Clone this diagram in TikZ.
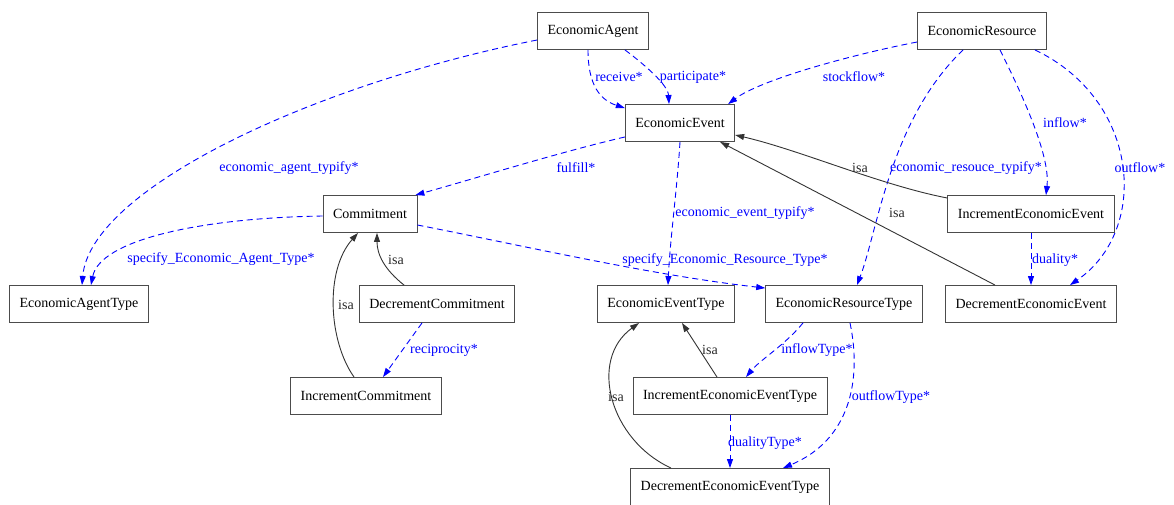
\documentclass[tikz,border=0pt]{standalone}
\usepackage{fontspec}
\setmainfont{Liberation Serif}
\usetikzlibrary{arrows.meta}

\begin{document}
\begin{tikzpicture}[x=1pt,y=-1pt,
  box/.style={draw=black!70,line width=0.9pt,minimum height=37pt,inner xsep=10pt,
    font=\fontsize{14pt}{16pt}\selectfont},
  rel/.style={draw=blue,line width=0.9pt,dash pattern=on 6pt off 4pt,
    -{Triangle[length=9pt,width=6pt]}},
  isa/.style={draw=black!80,line width=0.9pt,-{Triangle[length=9pt,width=6pt]}},
  lbl/.style={text=blue,inner sep=0pt,font=\fontsize{14pt}{16pt}\selectfont},
  isalbl/.style={lbl,text=black!85}]
\useasboundingbox (0,0) rectangle (1174,505);
% Classes, row by row
\node[box] (agent) at (593,31) {EconomicAgent};
\node[box] (resource) at (982,31) {EconomicResource};
\node[box] (event) at (680,123) {EconomicEvent};
\node[box] (commit) at (370,214) {Commitment};
\node[box] (incEvent) at (1031,214) {IncrementEconomicEvent};
\node[box] (agentType) at (79,304) {EconomicAgentType};
\node[box] (decCommit) at (437,304) {DecrementCommitment};
\node[box] (eventType) at (666,304) {EconomicEventType};
\node[box] (resType) at (844,304) {EconomicResourceType};
\node[box] (decEvent) at (1031,304) {DecrementEconomicEvent};
\node[box] (incCommit) at (366,396) {IncrementCommitment};
\node[box] (incEventType) at (730,396) {IncrementEconomicEventType};
\node[box] (decEventType) at (730,487) {DecrementEconomicEventType};
% Agent and resource relations
\draw[rel] ([yshift=-9pt]agent.west) .. controls (310,85) and (90,190) .. ([xshift=3pt]agentType.north);
\node[lbl] (lAgentTypify) at (289,168) {economic\_agent\_typify*};
\draw[rel] ([yshift=-2pt]commit.west) .. controls (200,218) and (100,240) .. ([xshift=12pt]agentType.north);
\node[lbl] (lSpecAgent) at (221,259) {specify\_Economic\_Agent\_Type*};
\draw[rel] ([xshift=-5pt]agent.south) .. controls (588,85) and (600,100) .. ([yshift=-4pt]event.north west);
\node[lbl] (lReceive) at (619,77) {receive*};
\draw[rel] ([xshift=32pt]agent.south) .. controls (645,65) and (668,85) .. ([xshift=-11pt]event.north);
\node[lbl] (lParticipate) at (693,77) {participate*};
\draw[rel] ([yshift=-11pt]resource.west) .. controls (850,55) and (760,80) .. ([xshift=-7pt]event.north east);
\node[lbl] (lStockflow) at (854,77) {stockflow*};
\draw[rel] ([yshift=-14pt]event.west) .. controls (560,152) and (470,180) .. ([xshift=-2pt]commit.north east);
\node[lbl] (lFulfill) at (576,168) {fulfill*};
\draw[rel] (event.south) .. controls (677,190) and (670,240) .. ([xshift=2pt]eventType.north);
\node[lbl] (lEventTypify) at (745,213) {economic\_event\_typify*};
\draw[rel] ([yshift=-11pt]commit.east) .. controls (520,245) and (650,275) .. ([yshift=-3pt]resType.north west);
\node[lbl] (lSpecResource) at (725,260) {specify\_Economic\_Resource\_Type*};
\draw[rel] ([xshift=-19pt]resource.south) .. controls (890,120) and (878,230) .. ([xshift=13pt]resType.north);
\node[lbl] (lResTypify) at (966,168) {economic\_resouce\_typify*};
\draw[rel] ([xshift=18pt]resource.south) .. controls (1030,110) and (1050,160) .. ([xshift=15pt]incEvent.north);
\node[lbl] (lInflow) at (1065,123) {inflow*};
\draw[rel] ([xshift=53pt]resource.south) .. controls (1140,100) and (1150,230) .. ([xshift=39pt]decEvent.north);
\node[lbl] (lOutflow) at (1140,168) {outflow*};
% Event subclasses
\draw[isa] ([yshift=-3pt]incEvent.north west) .. controls (880,185) and (800,150) .. ([yshift=-12pt]event.east);
\node[isalbl] (lIsaInc) at (860,168) {isa};
\draw[isa] ([xshift=-36pt]decEvent.north) -- ([xshift=-15pt]event.south east);
\node[isalbl] (lIsaDec) at (897,213) {isa};
\draw[rel] (incEvent.south) -- (incEvent.south |- decEvent.north);
\node[lbl,anchor=west] (lDuality) at (1032,260) {duality*};
% Commitment subclasses
\draw[isa] ([xshift=-33pt]decCommit.north) .. controls (385,270) and (377,255) .. ([xshift=7pt]commit.south);
\node[isalbl] (lIsaDecC) at (396,260) {isa};
\draw[isa] ([xshift=-12pt]incCommit.north) .. controls (328,340) and (325,270) .. ([xshift=-12pt]commit.south);
\node[isalbl] (lIsaIncC) at (346,305) {isa};
\draw[rel] ([xshift=-15pt]decCommit.south) -- ([xshift=17pt]incCommit.north);
\node[lbl] (lReciprocity) at (444,350) {reciprocity*};
% Event type subclasses
\draw[rel] ([xshift=-41pt]resType.south) .. controls (785,345) and (760,360) .. ([xshift=16pt]incEventType.north);
\node[lbl] (lInflowType) at (817,350) {inflowType*};
\draw[rel] ([xshift=6pt]resType.south) .. controls (862,380) and (850,440) .. ([xshift=53pt]decEventType.north);
\node[lbl] (lOutflowType) at (891,397) {outflowType*};
\draw[isa] ([xshift=-13pt]incEventType.north) -- ([xshift=16pt]eventType.south);
\node[isalbl] (lIsaIncT) at (710,350) {isa};
\draw[isa] ([xshift=-59pt]decEventType.north) .. controls (610,440) and (588,360) .. ([xshift=-27pt]eventType.south);
\node[isalbl] (lIsaDecT) at (616,397) {isa};
\draw[rel] (incEventType.south) -- (incEventType.south |- decEventType.north);
\node[lbl] (lDualityType) at (765,443) {dualityType*};
\end{tikzpicture}
\end{document}
